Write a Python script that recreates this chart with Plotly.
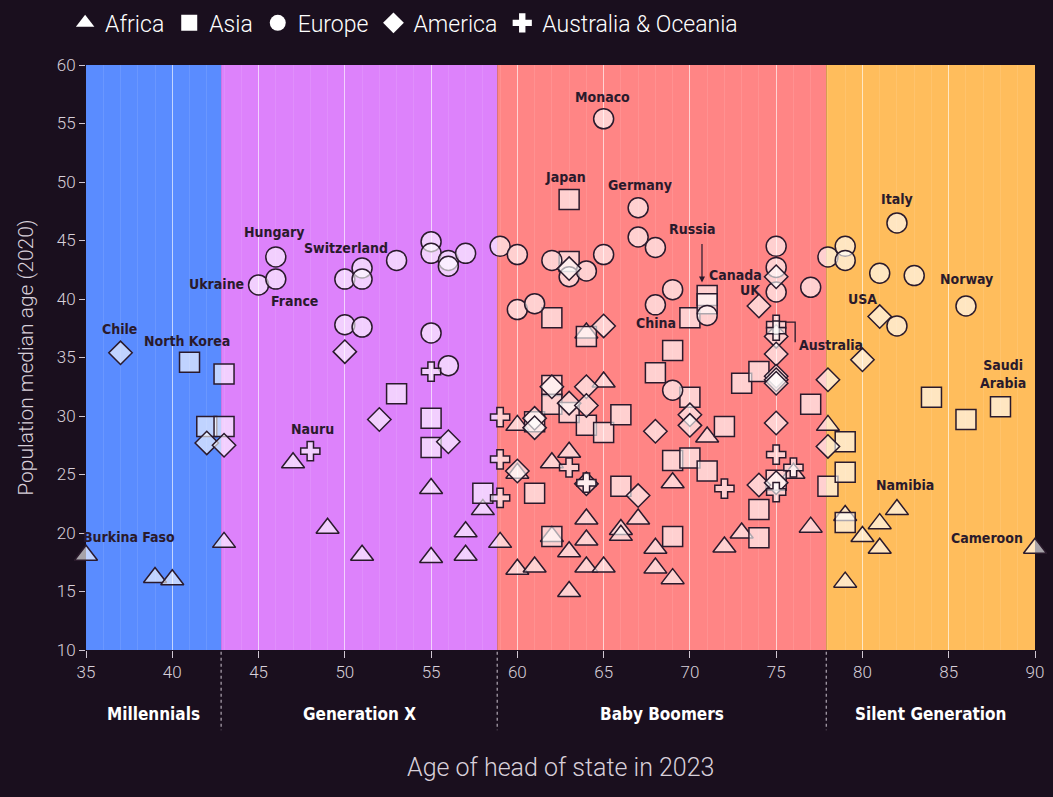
import plotly.graph_objects as go

# ---------------- data ----------------
africa_x = [35, 39, 40, 43, 47, 49, 51, 55, 55, 57, 57, 58, 59, 60, 60, 60, 61, 62, 62, 63, 63, 63,
            64, 64, 64, 64, 65, 65, 66, 66, 67, 68, 68, 69, 69, 71, 72, 73, 76, 77, 78, 79, 79, 80,
            81, 81, 82, 90]
africa_y = [18.1, 16.2, 16.0, 19.2, 26.0, 20.4, 18.1, 23.8, 17.9, 20.1, 18.1, 22.0, 19.2, 29.2, 25.1,
            16.9, 17.1, 26.0, 19.7, 26.9, 18.4, 15.0, 37.1, 21.2, 19.4, 17.1, 32.9, 17.1, 20.3, 19.8,
            21.2, 18.7, 17.0, 24.3, 16.1, 28.2, 18.8, 20.0, 25.1, 20.5, 29.2, 21.5, 15.8, 19.7, 20.8,
            18.7, 22.0, 18.7]

asia_x = [41, 43, 42, 43, 53, 55, 55, 58, 61, 61, 62, 62, 62, 62, 63, 63, 63, 64, 64, 65, 66, 66,
          68, 69, 69, 69, 70, 70, 70, 71, 71, 71, 72, 73, 74, 74, 74, 75, 77, 78, 79, 79, 79, 84,
          86, 88]
asia_y = [34.6, 33.6, 29.1, 29.1, 31.9, 29.8, 27.3, 23.4, 23.4, 29.5, 38.4, 32.6, 31.0, 19.7, 48.5,
          43.2, 30.3, 36.8, 29.2, 28.6, 30.1, 24.0, 33.7, 35.6, 26.2, 19.7, 38.4, 31.6, 26.4, 40.3,
          39.6, 25.3, 29.1, 32.8, 33.8, 22.0, 19.6, 24.5, 31.0, 24.0, 27.8, 25.2, 20.9, 31.6, 29.7,
          30.8]

europe_x = [45, 46, 46, 50, 50, 51, 51, 51, 53, 55, 55, 55, 56, 56, 56, 57, 59, 60, 60, 61, 62, 63,
            64, 65, 65, 67, 67, 68, 68, 69, 69, 71, 75, 75, 75, 77, 78, 79, 79, 81, 82, 82, 83, 86]
europe_y = [41.2, 43.6, 41.7, 41.7, 37.8, 42.65, 41.7, 37.6, 43.3, 44.9, 43.9, 37.1, 43.3, 42.8, 34.3,
            43.9, 44.5, 43.8, 39.1, 39.6, 43.3, 41.9, 42.4, 55.4, 43.8, 47.8, 45.3, 44.4, 39.5, 40.8,
            32.2, 38.6, 44.5, 42.7, 40.6, 41.0, 43.6, 44.5, 43.3, 42.2, 46.5, 37.7, 42.0, 39.4]

america_x = [37, 42, 43, 50, 52, 56, 60, 61, 61, 62, 63, 63, 64, 64, 64, 65, 67, 68, 70, 70, 74, 74,
             75, 75, 75, 75, 75, 75, 75, 75, 78, 78, 80, 81]
america_y = [35.4, 27.7, 27.5, 35.5, 29.7, 27.8, 25.3, 29.8, 29.0, 32.5, 42.6, 31.1, 32.5, 30.9, 24.2,
             37.7, 23.2, 28.7, 30.1, 29.2, 39.4, 24.1, 41.9, 36.8, 35.3, 33.4, 33.1, 32.8, 29.4, 24.3,
             33.1, 27.4, 34.8, 38.5]

oceania_x = [48, 55, 59, 59, 59, 63, 64, 72, 75, 75, 75, 75, 76]
oceania_y = [27.0, 33.8, 29.9, 26.3, 23.0, 25.6, 24.3, 23.8, 37.8, 37.3, 26.7, 23.5, 25.6]

generations = ["Millennials", "Generation X", "Baby Boomers", "Silent Generation"]
gen_bounds = [35, 42.83, 58.83, 77.9, 90]
gen_colors = ["#5a8cff", "#dd82fb", "#ff8585", "#ffbd5c"]

labels = ["Chile", "North Korea", "Ukraine", "Hungary", "France", "Switzerland", "Nauru",
          "Burkina Faso", "Monaco", "Japan", "Germany", "Russia", "Canada", "UK", "China",
          "Italy", "USA", "Norway", "Saudi<br>Arabia", "Namibia", "Cameroon"]
label_x = [36.97, 40.86, 42.59, 45.90, 47.06, 50.07, 48.10, 37.49, 64.91, 62.77, 67.12, 70.13,
           72.62, 73.49, 68.04, 82.01, 79.99, 86.01, 88.16, 82.48, 87.23]
label_y = [37.44, 36.41, 41.28, 45.73, 39.83, 44.36, 28.89, 19.66, 57.26, 50.43, 49.74, 45.98,
           42.05, 40.77, 37.95, 48.55, 40.0, 41.71, 33.59, 24.10, 19.57]

x_ticks = list(range(35, 91, 5))
y_ticks = list(range(10, 61, 5))

# ---------------- style ----------------
BG = "#1a0f1e"
DARK = "#2a1a2c"
BOLD = "DejaVu Sans Condensed, Liberation Sans Narrow, Roboto, sans-serif"
THIN = "Roboto, DejaVu Sans Condensed, sans-serif"
FILL = "rgba(255,255,255,0.62)"
LIGHT = "#d8d0da"

fig = go.Figure()

series = [
    ("Africa", africa_x, africa_y, "triangle-up", 20),
    ("Asia", asia_x, asia_y, "square", 20),
    ("Europe", europe_x, europe_y, "circle", 20),
    ("America", america_x, america_y, "diamond", 18),
    ("Australia & Oceania", oceania_x, oceania_y, "cross", 16),
]

for name, xs, ys, sym, size in series:
    fig.add_trace(go.Scatter(
        x=xs, y=ys, mode="markers", name=name, showlegend=False, cliponaxis=False,
        marker=dict(symbol=sym, size=size, color=FILL, line=dict(color=DARK, width=1.5)),
    ))

# legend-only traces (solid white symbols)
for name, xs, ys, sym, size in series:
    fig.add_trace(go.Scatter(
        x=[None], y=[None], mode="markers", name=name, showlegend=True,
        marker=dict(symbol=sym, size=16, color="white", line=dict(width=0)),
    ))

shapes = []
for i in range(4):
    shapes.append(dict(type="rect", xref="x", yref="paper", x0=gen_bounds[i], x1=gen_bounds[i + 1],
                       y0=0, y1=1, fillcolor=gen_colors[i], line=dict(width=0), layer="below"))
for b in gen_bounds[1:4]:
    shapes.append(dict(type="line", xref="x", yref="paper", x0=b, x1=b, y0=-0.003, y1=-0.137,
                       line=dict(color="#cfc6d2", width=1, dash="dot")))
# Australia bracket
shapes.append(dict(type="path", xref="x", yref="y",
                   path="M 75.52 38.03 L 76.1 38.03 L 76.1 36.3",
                   line=dict(color=DARK, width=1.3)))
fig.update_layout(shapes=shapes)

ann = []
for t, lx, ly in zip(labels, label_x, label_y):
    ann.append(dict(x=lx, y=ly, xref="x", yref="y", text=t, showarrow=False,
                    font=dict(family=BOLD, size=14, color=DARK, weight="bold"),
                    xanchor="center", yanchor="middle"))
ann.append(dict(x=76.22, y=36.07, xref="x", yref="y", text="Australia", showarrow=False,
                font=dict(family=BOLD, size=14, color=DARK, weight="bold"),
                xanchor="left", yanchor="middle"))
# Russia arrow
ann.append(dict(x=70.7, y=41.4, xref="x", yref="y", text="", showarrow=True, ax=0, ay=-40,
                arrowhead=2, arrowsize=1, arrowwidth=1.2, arrowcolor=DARK))
# generation labels
for i, g in enumerate(generations):
    cx = (gen_bounds[i] + gen_bounds[i + 1]) / 2
    ann.append(dict(x=cx, y=-0.109, xref="x", yref="paper", text=g, showarrow=False,
                    font=dict(family=BOLD, size=17, color="white", weight="bold"),
                    xanchor="center", yanchor="middle"))
# axis titles
ann.append(dict(x=0.5, y=-0.2017, xref="paper", yref="paper", text="Age of head of state in 2023",
                showarrow=False, font=dict(family=THIN, size=25, color=LIGHT, weight=300),
                xanchor="center", yanchor="middle"))
ann.append(dict(x=-0.064, y=0.5, xref="paper", yref="paper", text="Population median age (2020)",
                showarrow=False, textangle=-90, font=dict(family=THIN, size=21, color=LIGHT, weight=300),
                xanchor="center", yanchor="middle"))
fig.update_layout(annotations=ann)

fig.update_xaxes(range=[35, 90], tickvals=x_ticks, ticks="outside", ticklen=7, tickcolor="#cfc6d2",
                 tickfont=dict(family=THIN, size=17, color=LIGHT, weight=300),
                 showgrid=True, gridcolor="rgba(255,255,255,0.6)", gridwidth=1,
                 minor=dict(dtick=1, showgrid=True, gridcolor="rgba(255,255,255,0.1)", ticks=""),
                 zeroline=False, showline=False)
fig.update_yaxes(range=[10, 60], tickvals=y_ticks, ticks="outside", ticklen=6, tickcolor="#cfc6d2",
                 tickfont=dict(family=THIN, size=17, color=LIGHT, weight=300),
                 showgrid=False, zeroline=False, showline=False)

fig.update_layout(
    width=1053, height=797,
    margin=dict(l=86, r=18, t=65, b=147, autoexpand=False),
    paper_bgcolor=BG, plot_bgcolor=BG,
    font=dict(family=THIN, color="white"),
    legend=dict(orientation="h", x=-0.022, y=1.072, xanchor="left", yanchor="middle",
                font=dict(family=THIN, size=23, color="white", weight=300),
                bgcolor="rgba(0,0,0,0)"),
)

fig.write_html("out.html", config={"displayModeBar": False},
               post_script="document.body.style.margin='0';")
